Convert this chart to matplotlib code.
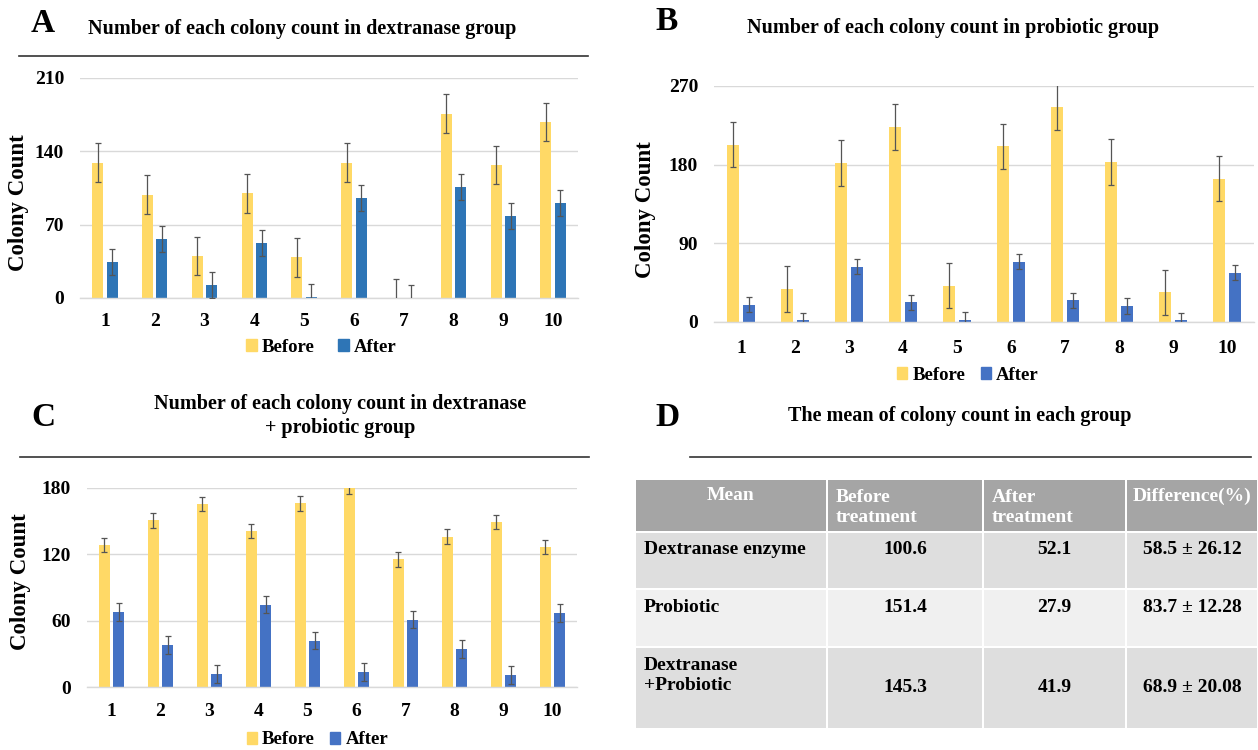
import matplotlib
matplotlib.use("Agg")
import matplotlib.pyplot as plt
import numpy as np
from matplotlib.patches import Rectangle
from matplotlib.lines import Line2D

plt.rcParams['font.family'] = ['Liberation Serif', 'DejaVu Serif']
plt.rcParams['font.weight'] = 'bold'

samples = [1, 2, 3, 4, 5, 6, 7, 8, 9, 10]

# Panel A: dextranase group
a_before = [129, 98.6, 40, 100, 38.8, 129, 0, 176, 127, 168]
a_after = [34, 56, 12.4, 52.5, 0.8, 95.8, 0, 106, 78.6, 91]
a_before_err = 18.5
a_after_err = 12.3

# Panel B: probiotic group
b_before = [203, 38, 182, 223, 41.6, 201, 246, 183, 34, 164]
b_after = [20, 2, 63, 22.5, 2.3, 68.7, 24.8, 18.3, 2, 56.5]
b_before_err = 26
b_after_err = 8.6

# Panel C: dextranase + probiotic group
c_before = [128.7, 150.7, 165.8, 141.3, 166, 181, 115.4, 136, 149.2, 126.8]
c_after = [67.7, 38, 12, 74.6, 42, 13.6, 61, 34.4, 10.9, 67]
c_before_err = 6.5
c_after_err = 8

# Panel D: table
table_header = ["Mean", "Before\ntreatment", "After\ntreatment", "Difference(%)"]
table_groups = ["Dextranase enzyme", "Probiotic", "Dextranase\n+Probiotic"]
table_before = ["100.6", "151.4", "145.3"]
table_after = ["52.1", "27.9", "41.9"]
table_diff = ["58.5 \u00b1 26.12", "83.7 \u00b1 12.28", "68.9 \u00b1 20.08"]

YELLOW = "#FFD966"
BLUE_A = "#2E75B6"
BLUE_B = "#4472C4"
ERRC = "#555555"

W, H = 1258, 750
fig = plt.figure(figsize=(W / 100, H / 100), dpi=100)


def fx(px):
    return px / W


def fy(py):
    return 1 - py / H


def bar_panel(x0, x1, y0, ytop, before, after, berr, aerr, ymax, step, blue, xpad):
    ax = fig.add_axes([fx(x0), fy(y0), fx(x1 - x0), fy(ytop) - fy(y0)])
    x = np.array(samples, dtype=float)
    bw = 0.22
    off = 0.145
    ax.bar(x - off, before, bw, color=YELLOW, zorder=2)
    ax.bar(x + off, after, bw, color=blue, zorder=2)
    ekw = dict(fmt='none', ecolor=ERRC, elinewidth=0.9, capsize=2.2, capthick=0.9, zorder=3)
    ax.errorbar(x - off, before, yerr=berr, **ekw)
    ax.errorbar(x + off, after, yerr=aerr, **ekw)
    ax.set_xlim(0.5, 10.5)
    ax.set_ylim(0, ymax)
    ax.set_yticks(np.arange(0, ymax + 1, step))
    ax.set_xticks(x)
    ax.set_xticklabels([str(s) for s in samples])
    ax.yaxis.grid(True, color="#D9D9D9", linewidth=1.0, zorder=0)
    ax.set_axisbelow(True)
    for s in ['top', 'right', 'left']:
        ax.spines[s].set_visible(False)
    ax.spines['bottom'].set_color("#D9D9D9")
    ax.spines['bottom'].set_linewidth(1.0)
    ax.tick_params(axis='both', length=0, labelsize=14)
    ax.tick_params(axis='x', pad=xpad)
    ax.tick_params(axis='y', pad=11.5)
    for lab in ax.get_xticklabels() + ax.get_yticklabels():
        lab.set_fontweight('bold')
    return ax


def ylabel(xc, yc):
    fig.text(fx(xc), fy(yc), "Colony Count", fontsize=16.5, fontweight='bold',
             rotation=90, ha='center', va='center')


def legend(blue, xc, yc, colsp):
    handles = [Rectangle((0, 0), 1, 1, color=YELLOW), Rectangle((0, 0), 1, 1, color=blue)]
    fig.legend(handles, ["Before", "After"], loc='center',
               bbox_to_anchor=(fx(xc), fy(yc)), ncol=2, frameon=False,
               prop=dict(size=13.5, weight='bold'), handlelength=0.55, handleheight=0.55,
               handletextpad=0.28, columnspacing=colsp, borderpad=0, borderaxespad=0)


def rule(xa, xb, y):
    fig.add_artist(Line2D([fx(xa), fx(xb)], [fy(y), fy(y)], color="#333333", linewidth=1.2))


def letter(txt, xc, yc):
    fig.text(fx(xc), fy(yc), txt, fontsize=24, fontweight='bold', ha='center', va='center')


def title(txt, xc, yc):
    fig.text(fx(xc), fy(yc), txt, fontsize=14.5, fontweight='bold', ha='center',
             va='center', linespacing=1.2)


# Panel A
bar_panel(80, 578, 298, 78, a_before, a_after, a_before_err, a_after_err, 210, 70, BLUE_A, 11)
ylabel(19, 203)
legend(BLUE_A, 321.5, 347, 1.25)
letter("A", 43, 23)
title("Number of each colony count in dextranase group", 302, 29)
rule(19, 588, 56)

# Panel B
bar_panel(714, 1254, 322, 86, b_before, b_after, b_before_err, b_after_err, 270, 90, BLUE_B, 13)
ylabel(645, 210)
legend(BLUE_B, 968, 375, 0.8)
letter("B", 667, 22)
title("Number of each colony count in probiotic group", 953, 28)

# Panel C
bar_panel(87, 577, 687, 488, c_before, c_after, c_before_err, c_after_err, 180, 60, BLUE_B, 11.5)
ylabel(21, 582)
legend(BLUE_B, 317.5, 740, 0.8)
letter("C", 43, 417)
title("Number of each colony count in dextranase\n+ probiotic group", 340, 416)
rule(20, 589, 457)

# Panel D
letter("D", 668, 417)
title("The mean of colony count in each group", 960, 416)
rule(690, 1251, 457)

axD = fig.add_axes([0, 0, 1, 1])
axD.set_xlim(0, W)
axD.set_ylim(H, 0)
axD.axis('off')

col_edges = [635, 827, 983, 1126, 1258]
row_edges = [479, 532, 589, 647, 729]
row_colors = ["#A5A5A5", "#DEDEDE", "#F0F0F0", "#DEDEDE"]
gap = 1.3
for r in range(4):
    for c in range(4):
        xa, xb = col_edges[c], col_edges[c + 1]
        ya, yb = row_edges[r], row_edges[r + 1]
        axD.add_patch(Rectangle((xa + gap, ya + gap), xb - xa - 2 * gap, yb - ya - 2 * gap,
                                facecolor=row_colors[r], edgecolor='none'))

fs_t = 14
# header
for c, txt in enumerate(table_header):
    xa, xb = col_edges[c], col_edges[c + 1]
    if c in (0, 3):
        axD.text((xa + xb) / 2, 496, txt, color='white', fontsize=fs_t,
                 fontweight='bold', ha='center', va='center')
    else:
        axD.text(xa + 9, 507.5, txt, color='white', fontsize=fs_t,
                 fontweight='bold', ha='left', va='center', linespacing=1.2)

row_text_y = [550, 607, 687]
for r in range(3):
    ty = row_text_y[r]
    if r < 2:
        axD.text(col_edges[0] + 9, ty, table_groups[r], fontsize=fs_t, fontweight='bold',
                 ha='left', va='center')
    else:
        axD.text(col_edges[0] + 9, 675.5, table_groups[r], fontsize=fs_t, fontweight='bold',
                 ha='left', va='center', linespacing=1.2)
    axD.text((col_edges[1] + col_edges[2]) / 2, ty, table_before[r], fontsize=fs_t,
             fontweight='bold', ha='center', va='center')
    axD.text((col_edges[2] + col_edges[3]) / 2, ty, table_after[r], fontsize=fs_t,
             fontweight='bold', ha='center', va='center')
    axD.text((col_edges[3] + col_edges[4]) / 2, ty, table_diff[r], fontsize=fs_t,
             fontweight='bold', ha='center', va='center')

fig.savefig("out.png", dpi=100)
